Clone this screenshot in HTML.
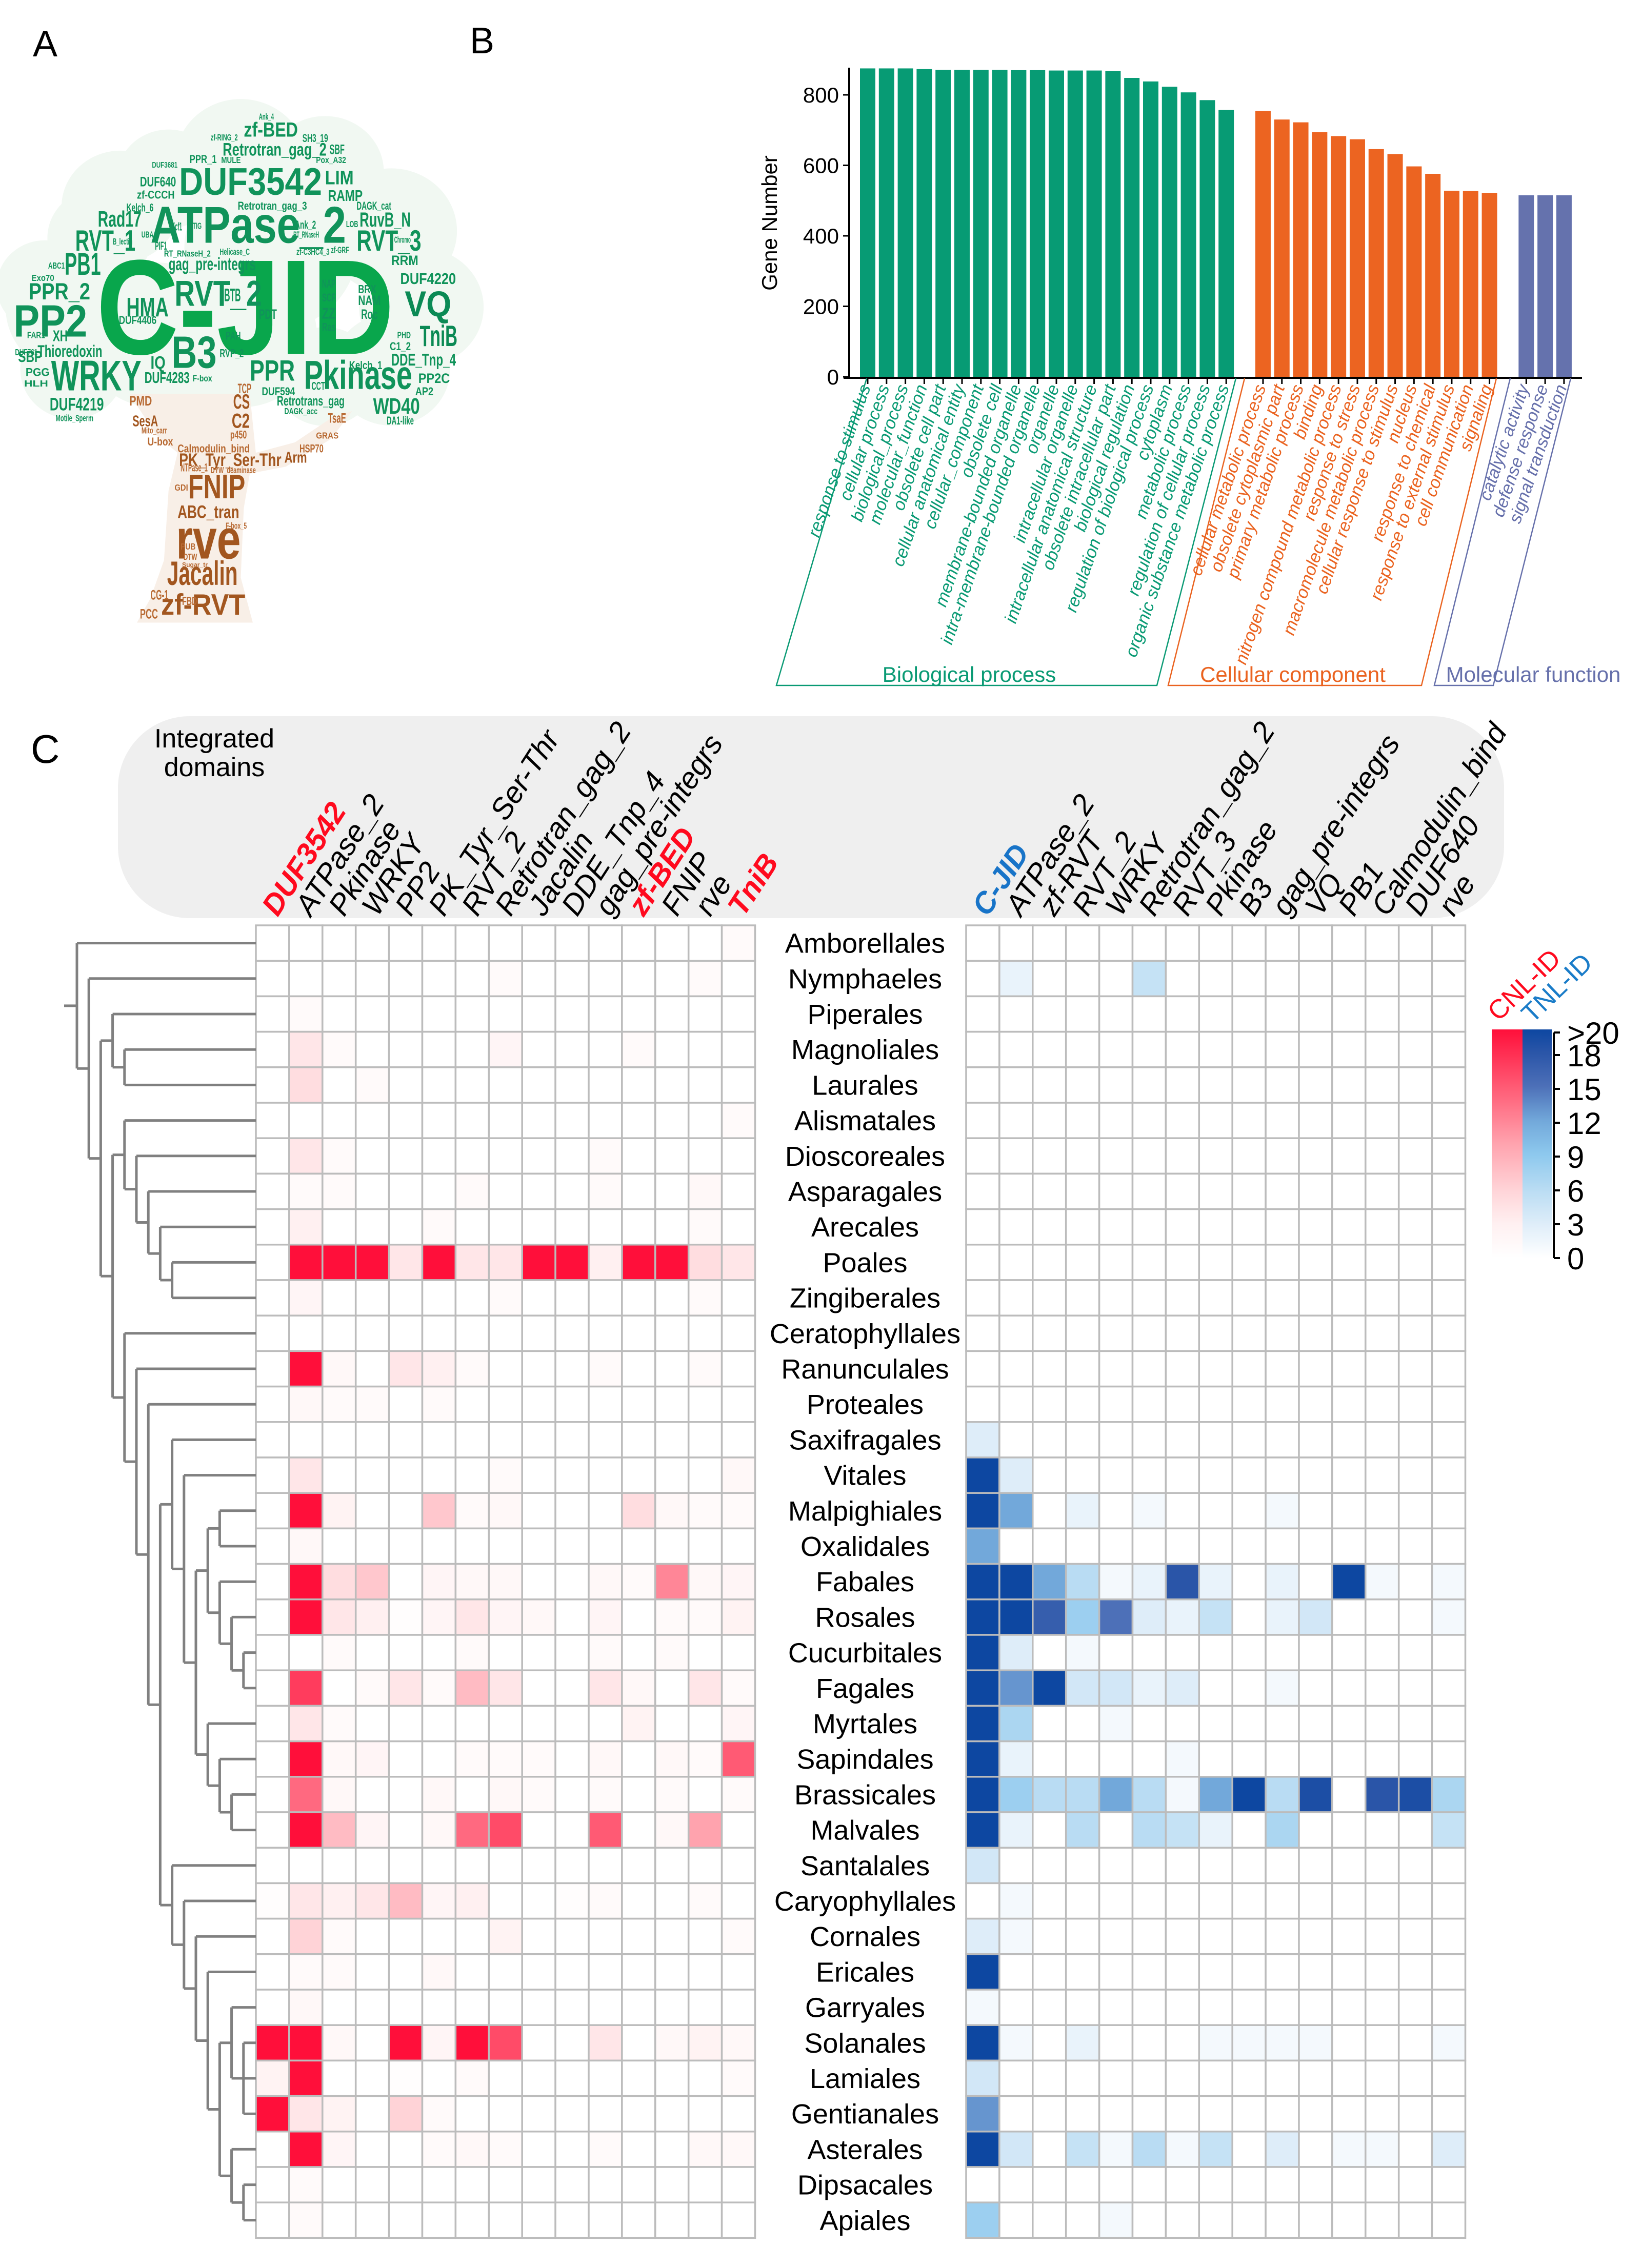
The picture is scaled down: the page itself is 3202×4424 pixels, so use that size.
<!DOCTYPE html>
<html><head><meta charset="utf-8"><style>
html,body{margin:0;padding:0;background:#fff}
svg{display:block;font-family:"Liberation Sans",Arial,sans-serif}
</style></head><body>
<svg id="figsvg" xmlns="http://www.w3.org/2000/svg" width="3202" height="4424" viewBox="0 0 3202 4424">
<rect x="0" y="0" width="3202" height="4424" fill="#fff"/>
<text x="64" y="110" font-size="72">A</text>
<text x="916" y="104" font-size="72">B</text>
<text x="60" y="1488" font-size="78">C</text>
<g id="gCloud"></g>
<g id="gBars"></g>
<rect x="230" y="1397" width="2703" height="394" rx="140" ry="140" fill="#efefef"/>
<text x="418" y="1458" font-size="52" text-anchor="middle">Integrated</text>
<text x="418" y="1514" font-size="52" text-anchor="middle">domains</text>
<g id="gHeat"></g>
<g id="gTree"></g>
<g id="gLegend"></g>
</svg>
<script>
var NS='http://www.w3.org/2000/svg';
function mk(tag,attrs,parent,txt){var e=document.createElementNS(NS,tag);for(var k in attrs)e.setAttribute(k,attrs[k]);if(txt!==undefined)e.textContent=txt;parent.appendChild(e);return e;}

/* ---------- Panel B data ---------- */
var bpTerms=["response to stimulus","cellular process","biological_process","molecular_function","obsolete cell part","cellular anatomical entity","cellular_component","obsolete cell","membrane-bounded organelle","intra-membrane-bounded organelle","organelle","intracellular organelle","intracellular anatomical structure","obsolete intracellular part","biological regulation","regulation of biological process","cytoplasm","metabolic process","regulation of cellular process","organic substance metabolic process"];
var bpValues=[875,875,875,873,871,871,871,871,870,870,869,869,869,868,848,838,823,807,785,757];
var ccTerms=["cellular metabolic process","obsolete cytoplasmic part","primary metabolic process","binding","nitrogen compound metabolic process","response to stress","macromolecule metabolic process","cellular response to stimulus","nucleus","response to chemical","response to external stimulus","cell communication","signaling"];
var ccValues=[754,730,722,694,683,674,646,632,597,576,528,527,522];
var mfTerms=["catalytic activity","defense response","signal transduction"];
var mfValues=[515,515,515];
var yTicks=[0,200,400,600,800];

/* ---------- Panel C data ---------- */
var orders=["Amborellales","Nymphaeles","Piperales","Magnoliales","Laurales","Alismatales","Dioscoreales","Asparagales","Arecales","Poales","Zingiberales","Ceratophyllales","Ranunculales","Proteales","Saxifragales","Vitales","Malpighiales","Oxalidales","Fabales","Rosales","Cucurbitales","Fagales","Myrtales","Sapindales","Brassicales","Malvales","Santalales","Caryophyllales","Cornales","Ericales","Garryales","Solanales","Lamiales","Gentianales","Asterales","Dipsacales","Apiales"];
var cnlDomains=["DUF3542","ATPase_2","Pkinase","WRKY","PP2","PK_Tyr_Ser-Thr","RVT_2","Retrotran_gag_2","Jacalin","DDE_Tnp_4","gag_pre-integrs","zf-BED","FNIP","rve","TniB"];
var tnlDomains=["C-JID","ATPase_2","zf-RVT","RVT_2","WRKY","Retrotran_gag_2","RVT_3","Pkinase","B3","gag_pre-integrs","VQ","PB1","Calmodulin_bind","DUF640","rve"];
var cnlHighlight=["DUF3542","zf-BED","TniB"];
var tnlHighlight=["C-JID"];
var cnlValues=[
[0,0,0,0,0,0,0,0,0,0,0,0,0,0,1],
[0,0,0,0,0,0,0,1,0,0,0,0,0,1,0],
[0,1,0,0,0,0,0,0,0,0,0,0,0,0,0],
[0,4,1,0,0,0,0,2,0,0,0,1,0,0,0],
[0,5,0,1,0,0,0,0,0,0,0,0,0,0,0],
[0,0,0,0,0,0,0,0,0,0,0,0,0,0,1],
[0,4,1,0,0,0,0,0,0,0,1,0,0,0,0],
[0,1,1,0,0,0,1,0,0,0,1,0,0,1.5,0],
[0,3,0,0,0,1,0,0,0,0,0,0,0,1,0],
[0,20,20,20,4,20,4,4,20,20,3,20,20,5,4],
[0,2,0,0,0,0,0,1,0,0,0,0,0,1,0],
[0,0,0,0,0,0,0,0,0,0,0,0,0,0,0],
[0,20,1.5,0,4,3,1,0,0,0,1,0,0,1,0],
[0,1.5,1,1,0,1,0,0,0,0,0,0,0,0,0],
[0,0,0,0,0,0,0,0,0,0,0,0,0,0,0],
[0,4,0,0,0,0,0,1,0,0,0,0,0,0,1.5],
[0,20,2.5,0,0,7,1,1.5,0,0,0,5,1.5,1,1],
[0,1.5,0,0,0,0,0,0,0,0,0,0,0,0,0],
[0,20,5,7,0,2,1.5,1.5,0,0,1.5,1,12,1.5,2],
[0,20,4,3,0.5,2,4,2,1.5,0,2,0,1,1,2.5],
[0,0,1,0,0,0,1,0,0,0,1,0,1,0,0],
[0,17,0,1,4,1,8,4,0,0,4,1.5,0,4,1],
[0,4,1,0,0,0,0,0,0,0,0,2.5,0,0,2],
[0,20,1.5,2,0,0,1,1,1,0,1.5,0,1.5,1,15],
[0,14,1.5,0,0,1.5,0,1.5,1,0,1,0,1,0,1],
[0,20,8,2,0,1.5,14,16,0,0,15,0,1.5,10,0],
[0,0,0,0,0,0,0,0,0,0,0,0,0,0,0],
[0.5,4,3,4,8,2,3,0,0,0.5,1,0,0,1,0],
[0,6,1,0,0,0,0,2.5,0,0,0,0,0,0,1],
[0,1,1,0,0,1.5,0,0,0,0,0,0,0,0,0],
[0,1.5,0,0,0,0,0,0,0,0,0,0,0,0,0],
[20,20,1.5,0,20,2,20,16,0,0,4,0,1.5,2.5,1.5],
[2.5,20,0,0,0.5,0,1,0,0,0,0,0,0,0,1],
[20,4,2.5,0,6,1,0,0,0,0,0,0,0,0,0],
[0,20,2,0,0,1,1.5,1,0,0,1,0,0,1.5,1.5],
[0,1,0,0,0,0,0,0,0,0,0,0,0,0,0],
[0,1,0,0,0,0,0,0,0,0,0,0,0,0,0]];
var tnlValues=[
[0,0,0,0,0,0,0,0,0,0,0,0,0,0,0],
[0,2,0,0,0,5,0,0,0,0,0,0,0,0,0],
[0,0,0,0,0,0,0,0,0,0,0,0,0,0,0],
[0,0,0,0,0,0,0,0,0,0,0,0,0,0,0],
[0,0,0,0,0,0,0,0,0,0,0,0,0,0,0],
[0,0,0,0,0,0,0,0,0,0,0,0,0,0,0],
[0,0,0,0,0,0,0,0,0,0,0,0,0,0,0],
[0,0,0,0,0,0,0,0,0,0,0,0,0,0,0],
[0,0,0,0,0,0,0,0,0,0,0,0,0,0,0],
[0,0,0,0,0,0,0,0,0,0,0,0,0,0,0],
[0,0,0,0,0,0,0,0,0,0,0,0,0,0,0],
[0,0,0,0,0,0,0,0,0,0,0,0,0,0,0],
[0,0,0,0,0,0,0,0,0,0,0,0,0,0,0],
[0,0,0,0,0,0,0,0,0,0,0,0,0,0,0],
[3,0,0,0,0,0,0,0,0,0,0,0,0,0,0],
[20,3,0,0,0,0,0,0,0,0,0,0,0,0,0],
[20,12,0,2,0,1,0,0,0,1,0,0,0,0,0],
[12,0,0,0,0,0,0,0,0,0,0,0,0,0,0],
[20,20,12,6,1,2,18,2,0,2,0,20,1,0,1],
[20,20,17,8,15,3,2,5,0,2,4,0,0,0,1],
[20,3,0,1,0,0,0,0,0,0,0,0,0,0,0],
[20,13,20,4,4,2,3,0,0,1,0,0,0,0,0],
[20,7,0,0,1,0,0,0,0,0,0,0,0,0,0],
[20,2,0,0,0,0,1,0,0,0,0,0,0,0,0],
[20,8,6,6,12,6,1,12,20,6,19,0,18,19,7],
[20,2,0,6,0,6,5,2,0,7,0,0,0,0,5],
[4,0,0,0,0,0,0,0,0,0,0,0,0,0,0],
[0,1,0,0,0,0,0,0,0,0,0,0,0,0,0],
[3,1,0,0,0,0,0,0,0,0,0,0,0,0,0],
[20,0,0,0,0,0,0,0,0,0,0,0,0,0,0],
[1,0,0,0,0,0,0,0,0,0,0,0,0,0,0],
[20,1,0,2,0,0,0,1,1,1,1,0,0,0,1],
[4,0,0,0,0,0,0,0,0,0,0,0,0,0,0],
[13,0,0,0,0,0,0,0,0,0,0,0,0,0,0],
[20,4,0,5,1,6,1,5,0,3,0,1,1,0,3],
[0,0,0,0,0,0,0,0,0,0,0,0,0,0,0],
[8,0,0,0,1,0,0,0,0,0,0,0,0,0,0]];
var legendTicks=[0,3,6,9,12,15,18,20];
var legendTickLabels=["0","3","6","9","12","15","18",">20"];
/* tree topology: [level, child, child, ...] */
var clRosidsN=[11,[12,"Malpighiales","Oxalidales"],[12,"Fabales",[13,"Rosales",[14,"Cucurbitales","Fagales"]]]];
var clMalvids=[11,"Myrtales",[12,"Sapindales",[13,"Brassicales","Malvales"]]];
var clRosids=[8,"Saxifragales",[9,"Vitales",[10,clRosidsN,clMalvids]]];
var clAsterids=[8,"Santalales",[9,"Caryophyllales",[10,"Cornales",[11,"Ericales",[12,[13,"Garryales",[14,"Solanales","Lamiales","Gentianales"]],[13,"Asterales",[14,"Dipsacales","Apiales"]]]]]]];
var clEudicots=[4,"Ceratophyllales",[5,"Ranunculales",[6,"Proteales",[7,clRosids,clAsterids]]]];
var clMonocots=[4,"Alismatales",[5,"Dioscoreales",[6,"Asparagales",[7,"Arecales",[8,"Poales","Zingiberales"]]]]];
var treeTopo=[0,"Amborellales",[1,"Nymphaeles",[2,[3,"Piperales",[4,"Magnoliales","Laurales"]],[3,clMonocots,clEudicots]]]];

var RED=[[0,[255,255,255]],[3,[255,240,241]],[6,[255,211,215]],[10,[255,163,174]],[15,[255,90,116]],[20,[255,15,58]]];
var BLUE=[[0,[255,255,255]],[3,[222,237,249]],[6,[185,220,243]],[9,[142,201,238]],[12,[114,168,218]],[15,[77,112,184]],[18,[42,85,168]],[20,[13,71,161]]];
function cmap(st,v){v=Math.max(0,Math.min(20,v));for(var i=1;i<st.length;i++){if(v<=st[i][0]){var a=st[i-1],b=st[i],t=(v-a[0])/(b[0]-a[0]);var c=a[1].map(function(x,j){return Math.round(x+(b[1][j]-x)*t);});return 'rgb('+c[0]+','+c[1]+','+c[2]+')';}}var d=st[st.length-1][1];return 'rgb('+d[0]+','+d[1]+','+d[2]+')';}

var ROW0=1805, RH=69.2, CW=64.9, LX=499, RXH=1884;
function rowY(i){return ROW0+i*RH;}

try{(function(){
  var g=document.getElementById('gBars');
  var y0=735, k=0.6875;
  function yS(v){return y0-v*k;}
  var slot=36.8, x0=1677, bw=30;
  var groups=[[bpTerms,bpValues,'#079b74','#0a9a74'],[ccTerms,ccValues,'#ec6421','#ea6320'],[mfTerms,mfValues,'#6572ad','#6670ab']];
  var idx=0;
  groups.forEach(function(gr,gi){
    gr[1].forEach(function(v,i){
      var x=x0+(idx+gi*0.95)*slot;
      var r=mk('rect',{x:x,y:yS(v),width:bw,height:y0-yS(v),fill:gr[2]},g);
      
      
      var cx=x+bw/2;
      mk('line',{x1:cx,y1:y0,x2:cx,y2:y0+14,stroke:'#000','stroke-width':3},g);
      var t=mk('text',{x:cx+6,y:y0+20,'font-size':34,'font-style':'italic',fill:gr[3],'text-anchor':'end',transform:'rotate(-71 '+(cx+6)+' '+(y0+20)+')'},g,gr[0][i]);
      
      
      idx++;
    });
  });
  mk('line',{x1:1656,y1:132,x2:1656,y2:737,stroke:'#000','stroke-width':4},g);
  mk('line',{x1:1645,y1:737,x2:3085,y2:737,stroke:'#000','stroke-width':4},g);
  yTicks.forEach(function(v){
    mk('line',{x1:1644,y1:yS(v),x2:1656,y2:yS(v),stroke:'#000','stroke-width':3},g);
    var t=mk('text',{x:1636,y:yS(v)+15,'font-size':42,'text-anchor':'end'},g,String(v));
    
    
  });
  var yt=mk('text',{x:1515,y:435,'font-size':42,'text-anchor':'middle',transform:'rotate(-90 1515 435)'},g,'Gene Number');
  
  
  var br=[['#0a9a74',[[1514,1337],[1690,738],[2256,1337],[2410,738]],'Biological process',1890],
            ['#ea6320',[[2278,1337],[2427,738],[2772,1337],[2918,738]],'Cellular component',2521],
            ['#6670ab',[[2797,1337],[2945,738],[2912,1337],[3063,738]],'Molecular function',2990]];
  br.forEach(function(b){
    var p=b[1];
    mk('polyline',{points:p[1][0]+','+p[1][1]+' '+p[0][0]+','+p[0][1]+' '+p[2][0]+','+p[2][1]+' '+p[3][0]+','+p[3][1],fill:'none',stroke:b[0],'stroke-width':2.5},g);
    var t=mk('text',{x:b[3],y:1330,'font-size':42,'text-anchor':'middle',fill:b[0]},g,b[2]);
    
    
  });
})();}catch(e){console.error(e);}

try{(function(){
  var g=document.getElementById('gHeat');
  function drawMap(x0,vals,st,name){
    vals.forEach(function(row,r){row.forEach(function(v,c){
      var e=mk('rect',{x:x0+c*CW,y:rowY(r),width:CW,height:RH,fill:cmap(st,v),stroke:'#bcbcbc','stroke-width':3.5},g);
      
      
    });});
  }
  drawMap(LX,cnlValues,RED,'cnl');
  drawMap(RXH,tnlValues,BLUE,'tnl');
  orders.forEach(function(o,i){
    var t=mk('text',{x:1687,y:rowY(i)+RH/2+19,'font-size':54,'text-anchor':'middle'},g,o);
    
    
  });
  function heads(x0,names,hl,hc){
    names.forEach(function(n,c){
      var x=x0+c*CW+CW/2+10, y=1790, h=hl.indexOf(n)>=0;
      var t=mk('text',{x:x,y:y,'font-size':58,'font-style':'italic','font-weight':h?'bold':'normal',fill:h?hc:'#000',transform:'rotate(-57 '+x+' '+y+')'},g,n);
      
      
    });
  }
  heads(LX,cnlDomains,cnlHighlight,'#ff0a1e');
  heads(RXH,tnlDomains,tnlHighlight,'#1874c8');
})();}catch(e){console.error(e);}

try{(function(){
  var g=document.getElementById('gTree');
  function lx(L){return 150+L*23.2;}
  var leafX=499;
  function st(o){o.stroke='#808080';o['stroke-width']=5;o.fill='none';return o;}
  function draw(n){
    if(typeof n==='string'){return {y:rowY(orders.indexOf(n))+RH/2,x:leafX};}
    var x=lx(n[0]);
    var kids=n.slice(1).map(draw);
    kids.forEach(function(kd){mk('line',st({x1:x,y1:kd.y,x2:kd.x,y2:kd.y}),g);});
    var ys=kids.map(function(kd){return kd.y;});
    mk('line',st({x1:x,y1:Math.min.apply(null,ys),x2:x,y2:Math.max.apply(null,ys)}),g);
    return {y:(ys[0]+ys[ys.length-1])/2,x:x};
  }
  var r=draw(treeTopo);
  mk('line',st({x1:125,y1:r.y,x2:150,y2:r.y}),g);
})();}catch(e){console.error(e);}

try{(function(){
  var g=document.getElementById('gLegend');
  var yTop=2008, yBot=2454;
  function yv(v){return yBot-(v/20)*(yBot-yTop-6);}
  var dr=mk('defs',{},g);
  function grad(id,stops){var lg=mk('linearGradient',{id:id,x1:0,y1:1,x2:0,y2:0},dr);stops.forEach(function(s){mk('stop',{offset:s[0]/20,'stop-color':cmap(stops,s[0])},lg);});}
  grad('gradRed',RED);grad('gradBlue',BLUE);
  var a=mk('rect',{x:2909,y:yTop,width:60,height:yBot-yTop,fill:'url(#gradRed)'},g);
  
  var b=mk('rect',{x:2969,y:yTop,width:57,height:yBot-yTop,fill:'url(#gradBlue)'},g);
  
  mk('line',{x1:3030,y1:yTop+6,x2:3030,y2:yBot,stroke:'#000','stroke-width':4},g);
  legendTicks.forEach(function(v,i){
    var y=yv(v);
    mk('line',{x1:3030,y1:y,x2:3042,y2:y,stroke:'#000','stroke-width':4},g);
    var t=mk('text',{x:3056,y:y+22,'font-size':60},g,legendTickLabels[i]);
    
  });
  var c=mk('text',{x:2922,y:1994,'font-size':52,fill:'#ff0a1e',transform:'rotate(-44 2922 1994)'},g,'CNL-ID');
  
  var t2=mk('text',{x:2988,y:1998,'font-size':52,fill:'#1a7cc8',transform:'rotate(-44 2988 1998)'},g,'TNL-ID');
  
})();}catch(e){console.error(e);}

try{(function(){
  var g=document.getElementById('gCloud');
  function X(z){return z/1.704;} function Y(z){return z/1.479+180;}
  var G1='#09a64c',G2='#10935a',G3='#0b8a55',B1='#a2561f',B2='#b86a33';
  [[400,330,170],[560,250,150],[800,200,190],[1080,230,170],[1300,400,190],[1400,620,180],[1300,800,170],[1080,820,150],[800,700,220],[520,700,220],[260,620,210],[240,800,150],[150,560,140],[330,420,150],[900,450,250]].forEach(function(c){
    mk('ellipse',{cx:X(c[0]),cy:Y(c[1]),rx:c[2]/1.704*1.15,ry:c[2]/1.479*0.95,fill:'#f1f8f2'},g);
  });
  var trunk=[[430,870],[520,990],[590,1040],[560,1150],[545,1350],[500,1460],[455,1530],[840,1530],[800,1400],[810,1200],[830,1100],[950,1080],[1100,1000],[1170,920],[1100,940],[980,1010],[850,1040],[830,870]].map(function(p){return X(p[0])+','+Y(p[1]);}).join(' ');
  mk('polygon',{points:trunk,fill:'#f8efe7'},g);
  var W=[
["C-JID",320,1310,470,770,G1],["ATPase_2",500,1150,325,440,G2],["DUF3542",595,1070,215,300,G2],["PP2",45,290,610,710,G2],["WRKY",170,470,770,865,G2],["Pkinase",1010,1370,770,860,G2],["B3",570,720,700,800,G2],["RVT_2",580,870,540,620,G2],["VQ",1345,1500,570,650,G3],["TniB",1395,1520,670,735,G3],["PB1",215,335,460,530,G2],["PPR_2",95,300,548,600,G2],["RVT_1",250,450,395,460,G2],["RVT_3",1185,1400,395,460,G2],["Rad17",325,470,340,390,G2],["zf-BED",810,990,85,130,G2],["Retrotran_gag_2",740,1085,145,185,G2],["gag_pre-integrs",560,850,475,515,G2],["HMA",420,560,590,650,G2],["PPR",830,980,770,835,G2],["WD40",1240,1395,880,930,G2],["DUF4219",165,345,880,920,G2],["Thioredoxin",125,340,728,765,G2],["DDE_Tnp_4",1300,1515,752,790,G2],["LIM",1080,1175,225,268,G2],["RAMP",1090,1205,280,315,G2],["RuvB_N",1195,1365,345,390,G2],["DUF4220",1330,1515,520,555,G2],["PP2C",1390,1495,810,840,G2],["Retrotrans_gag",920,1145,875,905,G2],["DUF640",465,585,243,273,G2],["zf-CCCH",455,580,283,308,G2],["SBP",60,140,745,780,G2],["PGG",85,165,795,820,G2],["HLH",80,160,830,850,G2],["XH",175,225,685,720,G2],["IQ",500,550,760,800,G2],["DUF4283",480,630,805,840,G2],["BTB",745,800,565,605,G2],["PDT",860,920,625,655,G2],["ZZ",1070,1115,620,655,G2],["Ras",1070,1115,665,690,G2],["NAM",1190,1265,585,615,G2],["BRX",1190,1250,555,580,G2],["Roc",1200,1255,625,655,G2],["SCF",1070,1115,580,605,G2],["NAP",1070,1115,540,565,G2],["RRM",1300,1390,470,500,G2],["Ank_2",980,1050,370,395,G2],["Retrotran_gag_3",790,1020,315,340,G2],["Kelch_6",420,510,320,345,G2],["PPR_1",630,720,180,205,G2],["MULE",735,800,185,205,G2],["SBF",1095,1145,150,180,G2],["SH3_19",1005,1090,120,145,G2],["Pox_A32",1050,1150,185,205,G2],["DUF4406",395,520,645,670,G2],["Kelch_1",1160,1270,775,800,G2],["C1_2",1295,1365,720,745,G2],["PHD",1320,1365,690,710,G2],["AP2",1380,1440,850,875,G2],["DA1-like",1285,1375,935,960,G2],["ABC1",160,215,490,510,G2],["Exo70",105,180,525,545,G2],["FAR1",90,150,690,710,G2],["DUF761",50,125,740,760,G2],["DUF594",870,980,850,875,G2],["CCT",1035,1080,835,860,G2],["DAGK_acc",945,1055,910,930,G2],["Motile_Sperm",185,310,930,950,G2],["PAH",750,800,690,715,G2],["RVP_2",730,810,740,765,G2],["F-box",640,705,815,835,G2],["RT_RNaseH",975,1060,400,420,G2],["zf-GRF",1100,1160,445,465,G2],["Chromo",1310,1365,415,435,G2],["DAGK_cat",1185,1300,315,340,G2],["LOB",1150,1190,370,390,G2],["zf-C3HC4_3",985,1095,450,470,G2],["RT_RNaseH_2",545,700,455,475,G2],["Helicase_C",730,830,450,470,G2],["PIF1",515,555,430,455,G2],["Ycf1",570,605,375,400,G2],["TIG",640,670,375,395,G2],["UBA",470,510,400,420,G2],["B_lectin",375,440,420,440,G2],["Ank_4",860,910,60,80,G2],["zf-RING_2",700,790,120,140,G2],["DUF3681",505,590,200,218,G2],
["FNIP",625,815,1100,1175,B1],["rve",585,800,1250,1345,B1],["Jacalin",555,790,1350,1425,B1],["zf-RVT",535,815,1445,1510,B1],["ABC_tran",590,795,1190,1230,B1],["PK_Tyr_Ser-Thr",595,935,1040,1080,B1],["CS",775,830,870,915,B1],["C2",770,830,925,970,B1],["p450",765,820,975,1000,B2],["TCP",790,835,840,870,B2],["SesA",440,525,930,965,B1],["PMD",430,505,875,905,B2],["Calmodulin_bind",590,830,1015,1040,B2],["Arm",945,1020,1035,1070,B1],["GRAS",1050,1125,980,1000,B2],["HSP70",995,1075,1015,1040,B2],["TsaE",1090,1150,925,955,B2],["U-box",490,575,995,1020,B2],["Mito_carr",470,555,965,985,B2],["GDI",580,625,1130,1150,B2],["PUB",600,650,1300,1320,B2],["DTW",610,655,1330,1350,B2],["Sugar_tr",605,690,1355,1370,B2],["CG-1",500,560,1435,1465,B2],["PCC",465,525,1490,1520,B2],["FBD",605,655,1455,1480,B2],["NTPase_1",600,690,1070,1095,B2],["DYW_deaminase",700,850,1080,1100,B2],["F-box_5",750,820,1240,1260,B2]];
  W.forEach(function(w){
    var x1=X(w[1]),x2=X(w[2]),yt=Y(w[3]),yb=Y(w[4]);
    var h=yb-yt, isR=(w[0]==='rve'), fs=isR?h*1.7:h*1.3;
    var t=mk('text',{x:(x1+x2)/2,y:yb-(isR?0:h*0.05),'font-size':fs.toFixed(1),'font-weight':'bold','text-anchor':'middle',fill:w[5],textLength:(x2-x1).toFixed(1),lengthAdjust:'spacingAndGlyphs'},g,w[0]);
    
    
  });
})();}catch(e){console.error(e);}
</script>
</body></html>
